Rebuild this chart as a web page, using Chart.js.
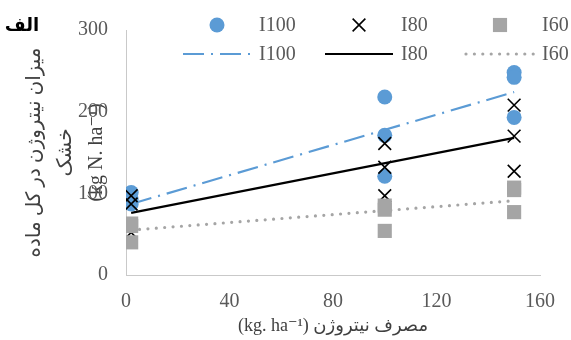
<!DOCTYPE html>
<html><head><meta charset="utf-8">
<script src="https://cdn.jsdelivr.net/npm/chart.js@4.4.1/dist/chart.umd.min.js"></script>
<style>html,body{margin:0;padding:0;background:#fff}#wrap{width:571px;height:340px}</style>
</head><body><div id="wrap"><canvas id="c" width="571" height="340"></canvas></div>
<script>
// ---- data ----
const nRates = [2, 2, 2, 100, 100, 100, 150, 150, 150];
const yI100 = [101, 93, 87, 218, 171, 121, 248, 242, 193];
const yI80  = [97, 87, 52, 161, 132, 97, 208, 170, 127];
const yI60  = [63, 60, 40, 85, 80, 54, 107, 104, 77];
const trendX = [2, 150];
const trendI100 = [87, 224];
const trendI80  = [76, 168];
const trendI60  = [55, 91];
const seriesNames = ['I100', 'I80', 'I60'];
const xTickValues = [0, 40, 80, 120, 160];
const yTickValues = [0, 100, 200, 300];
const yTitleLines = ['میزان نیتروژن در کل ماده', 'خشک', '(kg N. ha⁻¹)'];
const xTitleText = '(kg. ha⁻¹) مصرف نیتروژن';
const panelLabel = 'الف';

const pts = (xs, ys) => xs.map((x, i) => ({x: x, y: ys[i]}));
const SERIF = "'Liberation Serif', 'Times New Roman', 'DejaVu Sans', serif";

const legendPlugin = {
  id: 'customLegend',
  afterDraw(chart, args, opts) {
    const ctx = chart.ctx;
    const ca = chart.chartArea;
    const ds = chart.data.datasets;
    ctx.save();
    // panel label
    ctx.font = "bold 18px " + SERIF;
    ctx.fillStyle = '#000';
    ctx.textAlign = 'center';
    ctx.textBaseline = 'middle';
    ctx.fillText(panelLabel, opts.panelX, opts.panelY);
    // legend
    ctx.font = "20px " + SERIF;
    ctx.textAlign = 'left';
    const rowY = [ca.top + opts.row1, ca.top + opts.row2];
    opts.order.forEach((dsIndex, k) => {
      const d = ds[dsIndex];
      const row = Math.floor(k / 3), col = k % 3;
      const cx = opts.cols[col], cy = rowY[row];
      ctx.save();
      if (row === 0) {
        ctx.fillStyle = d.backgroundColor;
        ctx.strokeStyle = d.borderColor;
        ctx.lineWidth = d.borderWidth;
        Chart.helpers.drawPoint(ctx, {pointStyle: d.pointStyle, radius: d.pointRadius, borderWidth: d.borderWidth, rotation: 0}, cx, cy);
      } else {
        ctx.strokeStyle = d.borderColor;
        ctx.lineWidth = d.borderWidth;
        ctx.lineCap = d.borderCapStyle || 'butt';
        ctx.setLineDash(d.borderDash || []);
        ctx.beginPath();
        ctx.moveTo(cx - opts.lineHalf, cy);
        ctx.lineTo(cx + opts.lineHalf, cy);
        ctx.stroke();
      }
      ctx.restore();
      ctx.fillStyle = '#595959';
      ctx.fillText(d.label, cx + opts.textOffset[col], cy + 1);
    });
    ctx.restore();
  }
};

new Chart(document.getElementById('c'), {
  type: 'scatter',
  data: {
    datasets: [
      {label: seriesNames[0], data: pts(nRates, yI100), pointStyle: 'circle', pointRadius: 7.5,
       backgroundColor: '#5b9bd5', borderColor: '#5b9bd5', borderWidth: 0, order: 2},
      {label: seriesNames[1], data: pts(nRates, yI80), pointStyle: 'crossRot', pointRadius: 9,
       backgroundColor: '#000', borderColor: '#000', borderWidth: 1.6, order: 1},
      {label: seriesNames[2], data: pts(nRates, yI60), pointStyle: 'rect', pointRadius: 10,
       backgroundColor: '#a5a5a5', borderColor: '#a5a5a5', borderWidth: 0, order: 0},
      {label: seriesNames[0], data: pts(trendX, trendI100), showLine: true, pointRadius: 0,
       borderColor: '#5b9bd5', backgroundColor: '#5b9bd5', borderWidth: 2.2, borderDash: [21, 7, 2, 7], order: 3},
      {label: seriesNames[1], data: pts(trendX, trendI80), showLine: true, pointRadius: 0,
       borderColor: '#000', backgroundColor: '#000', borderWidth: 2.2, order: 3},
      {label: seriesNames[2], data: pts(trendX, trendI60), showLine: true, pointRadius: 0,
       borderColor: '#a5a5a5', backgroundColor: '#a5a5a5', borderWidth: 3.2, borderDash: [0, 8.4], borderCapStyle: 'round', order: 3}
    ]
  },
  options: {
    responsive: false,
    animation: false,
    devicePixelRatio: 1,
    layout: {padding: {top: 27, right: 31, bottom: 0, left: 0}},
    plugins: {
      legend: {display: false},
      tooltip: {enabled: false},
      customLegend: {
        order: [0, 1, 2, 3, 4, 5],
        cols: [217, 359, 500],
        textOffset: [42, 42, 42],
        lineHalf: 34,
        row1: -5, row2: 24,
        panelX: 22, panelY: 26
      }
    },
    scales: {
      x: {
        type: 'linear', min: 0, max: 160,
        afterBuildTicks: s => { s.ticks = xTickValues.map(v => ({value: v})); },
        afterFit: s => { s.height = 65; },
        grid: {display: false, drawTicks: false},
        border: {display: true, color: '#c9c9c9', width: 1},
        ticks: {padding: 15, color: '#595959', font: {family: SERIF, size: 20}},
        title: {display: true, text: xTitleText, color: '#404040',
                font: {family: SERIF, size: 18, lineHeight: 1.2}, padding: {top: 0, bottom: 3}}
      },
      y: {
        type: 'linear', min: 0, max: 300,
        afterBuildTicks: s => { s.ticks = yTickValues.map(v => ({value: v})); },
        afterFit: s => { s.width = 126; },
        grid: {display: false, drawTicks: false},
        border: {display: true, color: '#c9c9c9', width: 1},
        ticks: {padding: 18, color: '#595959', font: {family: SERIF, size: 20}},
        title: {display: true, text: yTitleLines, color: '#404040',
                font: {family: SERIF, size: 20, lineHeight: 1.55}, padding: {top: 19, bottom: 0}}
      }
    }
  },
  plugins: [legendPlugin]
});
</script>
</body></html>
